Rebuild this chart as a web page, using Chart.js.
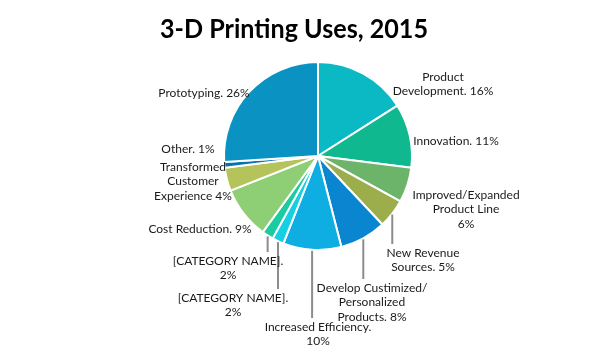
<!DOCTYPE html>
<html>
<head>
<meta charset="utf-8">
<script src="https://cdn.jsdelivr.net/npm/chart.js@4"></script>
<style>
  body { margin: 0; background: #fff; }
  #wrap { width: 612px; height: 352px; }
</style>
</head>
<body>
<div id="wrap"><canvas id="myCanvas" width="612" height="352"></canvas></div>
<script>
// data, clockwise from 12 o'clock
const chartTitle = "3-D Printing Uses, 2015";
const categories = [
  "Product Development", "Innovation", "Improved/Expanded Product Line",
  "New Revenue Sources", "Develop Custimized/ Personalized Products",
  "Increased Efficiency", "[CATEGORY NAME]", "[CATEGORY NAME]",
  "Cost Reduction", "Transformed Customer Experience", "Other", "Prototyping"
];
const shares = [16, 11, 6, 5, 8, 10, 2, 2, 9, 4, 1, 26];
const labelLines = [
  ["Product", "Development. 16%"],
  ["Innovation. 11%"],
  ["Improved/Expanded", "Product Line", "6%"],
  ["New Revenue", "Sources. 5%"],
  ["Develop Custimized/", "Personalized", "Products. 8%"],
  ["Increased Efficiency.", "10%"],
  ["[CATEGORY NAME].", "2%"],
  ["[CATEGORY NAME].", "2%"],
  ["Cost Reduction. 9%"],
  ["Transformed", "Customer", "Experience 4%"],
  ["Other. 1%"],
  ["Prototyping. 26%"]
];
const sliceColors = [
  "#0bb9c5", "#10b890", "#6cb46a", "#9cae4c", "#0a86d0", "#0eade2",
  "#17cfe2", "#1ccba0", "#8ecf76", "#b5c45a", "#0a70b0", "#0a93c2"
];

// where each label sits, relative to the pie centre (first text line)
const labelPlace = [
  {dx: 125, dy: -79}, {dx: 138, dy: -15}, {dx: 148, dy: 39},
  {dx: 105, dy: 97, leader: true}, {dx: 54, dy: 132, leader: true},
  {dx: 0, dy: 171, leader: true}, {dx: -85, dy: 142, leader: true},
  {dx: -90, dy: 105, leader: true}, {dx: -118, dy: 73},
  {dx: -125, dy: 11}, {dx: -130, dy: -7}, {dx: -114, dy: -63}
];

// title drawn by hand so it can be widened like the original
const wideTitle = {
  id: "wideTitle",
  afterDraw(chart) {
    const ctx = chart.ctx;
    ctx.save();
    ctx.font = "bold 26px Lato";
    const w = ctx.measureText(chartTitle).width;
    ctx.translate(chart.width / 2 - 12, 30);
    ctx.scale(268 / w, 1);
    ctx.fillStyle = "#000";
    ctx.textAlign = "center";
    ctx.textBaseline = "middle";
    ctx.fillText(chartTitle, 0, 0);
    ctx.restore();
  }
};

const sliceLabels = {
  id: "sliceLabels",
  afterDraw(chart) {
    const ctx = chart.ctx;
    const arcs = chart.getDatasetMeta(0).data;
    ctx.save();
    ctx.font = "12px Lato";
    ctx.fillStyle = "#1a1a1a";
    ctx.textAlign = "center";
    ctx.textBaseline = "middle";
    arcs.forEach((arc, i) => {
      const p = labelPlace[i];
      const cx = arc.x, cy = arc.y;
      const lx = cx + p.dx, ly = cy + p.dy;
      if (p.leader) {
        const mid = (arc.startAngle + arc.endAngle) / 2;
        const sx = cx + Math.cos(mid) * arc.outerRadius;
        const sy = cy + Math.sin(mid) * arc.outerRadius;
        ctx.beginPath();
        ctx.strokeStyle = "#8c8c8c";
        ctx.lineWidth = 2;
        ctx.moveTo(sx, sy + 1);
        ctx.lineTo(sx, ly - 9);
        ctx.stroke();
      }
      labelLines[i].forEach((t, k) => {
        ctx.fillText(t, lx, ly + k * 14.5);
      });
    });
    ctx.restore();
  }
};

const ctx = document.getElementById("myCanvas").getContext("2d");
const newChart = new Chart(ctx, {
  type: "pie",
  data: {
    labels: categories,
    datasets: [{
      data: shares,
      backgroundColor: sliceColors,
      borderColor: "#ffffff",
      borderWidth: 2,
      hoverOffset: 0
    }]
  },
  options: {
    responsive: false,
    animation: false,
    layout: { padding: { top: 61, left: 223, right: 199, bottom: 101 } },
    plugins: {
      legend: { display: false },
      tooltip: { enabled: false },
      title: { display: false }
    }
  },
  plugins: [sliceLabels, wideTitle]
});
</script>
</body>
</html>
